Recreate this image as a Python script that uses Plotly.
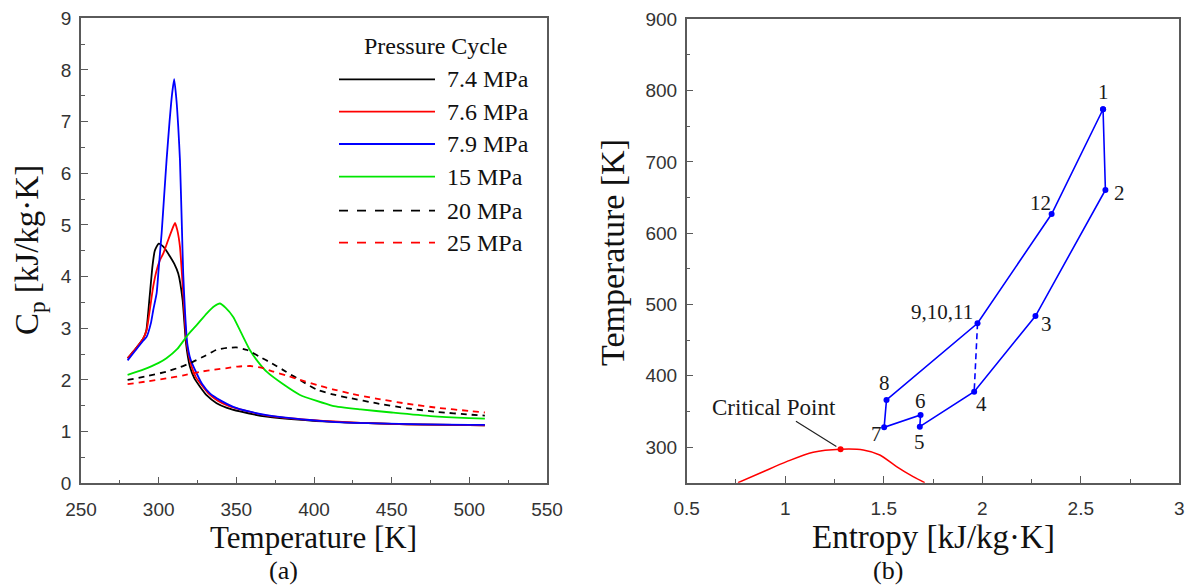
import plotly.graph_objects as go

W, H = 1188, 585

# ---- (a) specific heat vs temperature ----
SERIES_NAMES = ["7.4 MPa", "7.6 MPa", "7.9 MPa", "15 MPa", "20 MPa", "25 MPa"]

T_74 = [280, 285, 290, 292, 294, 296, 297.5, 300, 303, 307.3, 310, 312.6, 315.4, 317.6, 320.1, 323,
        326.6, 331, 337.3, 344, 352.3, 369.5, 399.5, 430, 460, 490, 510]
CP_74 = [2.42, 2.6, 2.8, 2.95, 3.55, 4.2, 4.5, 4.64, 4.58, 4.39, 4.25, 4.06, 3.55, 2.71, 2.26, 2.03,
         1.87, 1.7, 1.55, 1.46, 1.39, 1.29, 1.21, 1.17, 1.14, 1.13, 1.12]

T_76 = [280, 285, 290, 292.3, 294.5, 296.5, 298.5, 300.8, 303, 306, 308.5, 310.5, 312, 313.7, 315.8,
        318, 321.2, 324, 327.7, 332, 338, 345, 355, 370, 400, 430, 460, 490, 510]
CP_76 = [2.42, 2.6, 2.8, 2.97, 3.4, 3.81, 4.1, 4.32, 4.45, 4.7, 4.9, 5.04, 4.9, 4.58, 3.68,
         2.71, 2.26, 2.05, 1.9, 1.74, 1.6, 1.5, 1.41, 1.31, 1.22, 1.17, 1.14, 1.13, 1.12]

T_79 = [280, 285, 290, 292.3, 295, 296.5, 298.7, 300, 301.9, 303.5, 305.1, 307, 308.5, 310, 311.5,
        312.6, 313.7, 315, 315.8, 317, 318.4, 320.5, 324.4, 328, 333, 340, 348, 358, 369.5, 385,
        412, 440, 470, 500, 510]
CP_79 = [2.38, 2.57, 2.76, 2.84, 3.1, 3.35, 3.68, 4.15, 4.84, 5.55, 6.26, 7.0, 7.5, 7.82, 7.4,
         6.9, 6.26, 4.9, 4.06, 3.3, 2.71, 2.4, 2.13, 1.92, 1.74, 1.6, 1.48, 1.39, 1.32, 1.26,
         1.19, 1.16, 1.14, 1.13, 1.13]

T_15 = [280, 290, 300, 305, 312, 319, 325, 331, 336, 339.4, 343, 348, 353, 358.7, 364, 369.5, 380,
        391, 412, 430, 450, 475, 500, 510]
CP_15 = [2.1, 2.2, 2.33, 2.42, 2.6, 2.88, 3.08, 3.29, 3.43, 3.48, 3.4, 3.22, 2.92, 2.58, 2.35, 2.16,
         1.92, 1.71, 1.5, 1.43, 1.37, 1.3, 1.26, 1.25]

T_20 = [280, 292, 305, 314, 322, 330, 337, 344, 350, 357, 365, 373, 382, 392, 402, 412, 423, 440,
        460, 480, 500, 510]
CP_20 = [2.0, 2.07, 2.16, 2.25, 2.35, 2.47, 2.58, 2.62, 2.63, 2.58, 2.45, 2.32, 2.16, 1.98, 1.81,
         1.72, 1.65, 1.55, 1.45, 1.38, 1.33, 1.31]

T_25 = [280, 292, 305, 316, 327, 336, 344, 351, 359, 366, 374, 382, 391, 402, 412, 423, 440, 460,
        480, 500, 510]
CP_25 = [1.92, 1.97, 2.03, 2.09, 2.16, 2.2, 2.23, 2.26, 2.27, 2.24, 2.16, 2.09, 2.0, 1.9, 1.82,
         1.74, 1.64, 1.54, 1.46, 1.40, 1.37]

# ---- (b) T-s diagram ----
S_CYCLE = [2.613, 2.625, 2.270, 1.959, 1.683, 1.687, 1.502, 1.514, 1.976, 2.352, 2.613]
T_CYCLE = [773.8, 660.6, 483.8, 377.6, 328.6, 345.0, 327.7, 366.0, 473.6, 626.9, 773.8]
POINT_LABELS = ["1", "2", "3", "4", "5", "6", "7", "8", "9,10,11", "12"]

S_DASH = [1.976, 1.959]
T_DASH = [473.6, 377.6]

S_DOME = [0.76, 0.888, 1.007, 1.142, 1.281, 1.396, 1.48, 1.565, 1.649, 1.708]
T_DOME = [250, 265.4, 279.5, 292.7, 296.9, 295.9, 288.9, 272.5, 258.4, 250]
S_CRIT, T_CRIT = 1.281, 296.9

STYLES = [
    dict(color="#000000", dash="solid"),
    dict(color="#ff0000", dash="solid"),
    dict(color="#0000ff", dash="solid"),
    dict(color="#00e600", dash="solid"),
    dict(color="#000000", dash="6px,5px"),
    dict(color="#ff0000", dash="6px,5px"),
]

SERIF = "Liberation Serif, Times New Roman, serif"
SANS = "Liberation Sans, Arial, sans-serif"
AXIS_GREY = "#5a5a5a"


def px(x):
    # window pixel -> paper fraction
    return x / W


def py(y):
    return 1 - y / H


fig = go.Figure()

curves = [(T_74, CP_74), (T_76, CP_76), (T_79, CP_79), (T_15, CP_15), (T_20, CP_20), (T_25, CP_25)]
for (t, cp), name, st in zip(curves, SERIES_NAMES, STYLES):
    fig.add_trace(go.Scatter(x=t, y=cp, mode="lines", name=name, showlegend=False,
                             line=dict(color=st["color"], dash=st["dash"], width=1.8, shape="spline",
                                       smoothing=0.5),
                             xaxis="x", yaxis="y"))

fig.add_trace(go.Scatter(x=S_DOME, y=T_DOME, mode="lines", showlegend=False,
                         line=dict(color="#ff0000", width=1.5, shape="spline", smoothing=0.8),
                         xaxis="x2", yaxis="y2", cliponaxis=True))
fig.add_trace(go.Scatter(x=[S_CRIT], y=[T_CRIT], mode="markers", showlegend=False,
                         marker=dict(color="#ff0000", size=6), xaxis="x2", yaxis="y2"))
fig.add_trace(go.Scatter(x=S_CYCLE, y=T_CYCLE, mode="lines+markers", showlegend=False,
                         line=dict(color="#0000ff", width=1.6), marker=dict(color="#0000ff", size=6),
                         xaxis="x2", yaxis="y2"))
fig.add_trace(go.Scatter(x=S_DASH, y=T_DASH, mode="lines", showlegend=False,
                         line=dict(color="#0000ff", width=1.6, dash="6px,4px"),
                         xaxis="x2", yaxis="y2"))

# point labels (screen offsets in px: right, down)
label_offsets = {"1": (0, -17), "2": (14, 3), "3": (11, 8), "4": (7, 12), "5": (0, 15),
                 "6": (0, -14), "7": (-8, 7), "8": (-2, -17), "12": (-11, -11)}
annotations = []
for s, t, lab in zip(S_CYCLE, T_CYCLE, POINT_LABELS):
    if lab == "9,10,11":
        annotations.append(dict(x=s, y=t, xref="x2", yref="y2", text=lab, showarrow=False,
                                xanchor="right", yanchor="middle", xshift=-3, yshift=11,
                                font=dict(family=SERIF, size=21, color="#1a1a1a")))
        continue
    dx, dy = label_offsets[lab]
    annotations.append(dict(x=s, y=t, xref="x2", yref="y2", text=lab, showarrow=False,
                            xanchor="center", yanchor="middle", xshift=dx, yshift=-dy,
                            font=dict(family=SERIF, size=21, color="#1a1a1a")))

annotations.append(dict(x=S_CRIT, y=T_CRIT, xref="x2", yref="y2", text="Critical Point",
                        showarrow=True, arrowhead=0, arrowwidth=1.2, arrowcolor="#222222",
                        ax=-67, ay=-42, standoff=5,
                        font=dict(family=SERIF, size=23, color="#1a1a1a")))


# axis titles and panel captions
def caption(text, x, y, size, angle=0):
    return dict(x=px(x), y=py(y), xref="paper", yref="paper", text=text, showarrow=False,
                xanchor="center", yanchor="middle", textangle=angle,
                font=dict(family=SERIF, size=size, color="#111111"))


annotations += [
    caption("Temperature [K]", 313, 537, 31),
    caption("(a)", 283, 570, 26),
    caption("C<sub>p</sub> [kJ/kg·K]", 29, 250, 33, -90),
    caption("Entropy [kJ/kg·K]", 933, 537, 33),
    caption("(b)", 888, 570, 26),
    caption("Temperature [K]", 612, 253, 34, -90),
]

# legend drawn by hand to match long sample lines
shapes = []
legend_rows = [79.3, 111.7, 144, 176.7, 210.7, 242.7]
annotations.append(dict(x=px(435), y=py(46), xref="paper", yref="paper", text="Pressure Cycle",
                        showarrow=False, xanchor="center", yanchor="middle",
                        font=dict(family=SERIF, size=24, color="#111111")))
for name, st, yy in zip(SERIES_NAMES, STYLES, legend_rows):
    dash = "dash" if st["dash"] != "solid" else "solid"
    shapes.append(dict(type="line", xref="paper", yref="paper", x0=px(339), x1=px(435),
                       y0=py(yy), y1=py(yy), line=dict(color=st["color"], width=1.8, dash=dash)))
    annotations.append(dict(x=px(445), y=py(yy), xref="paper", yref="paper", text=name,
                            showarrow=False, xanchor="left", yanchor="middle",
                            font=dict(family=SERIF, size=24, color="#111111")))

axis_common = dict(showline=True, mirror=True, linecolor=AXIS_GREY, linewidth=1.5,
                   ticks="inside", ticklen=7, tickwidth=1.3, tickcolor=AXIS_GREY,
                   showgrid=False, zeroline=False, automargin=False,
                   tickfont=dict(family=SANS, size=19, color="#333333"))

fig.update_layout(
    width=W, height=H,
    margin=dict(l=0, r=0, t=0, b=0, autoexpand=False),
    plot_bgcolor="white", paper_bgcolor="white",
    showlegend=False,
    xaxis=dict(domain=[px(81), px(547)], range=[250, 550], dtick=50, anchor="y",
               minor=dict(dtick=25, ticks="inside", ticklen=4, tickcolor=AXIS_GREY),
               ticklabelstandoff=8, **axis_common),
    yaxis=dict(domain=[py(483.3), py(18.3)], range=[0, 9], dtick=1, anchor="x",
               minor=dict(dtick=0.5, ticks="inside", ticklen=4, tickcolor=AXIS_GREY),
               ticklabelstandoff=4, **axis_common),
    xaxis2=dict(domain=[px(686.7), px(1179.3)], range=[0.5, 3], dtick=0.5, anchor="y2",
                minor=dict(dtick=0.25, ticks="inside", ticklen=4, tickcolor=AXIS_GREY),
                ticklabelstandoff=8, **axis_common),
    yaxis2=dict(domain=[py(482.7), py(19.3)], range=[250, 900], dtick=100, anchor="x2",
                minor=dict(dtick=50, ticks="inside", ticklen=4, tickcolor=AXIS_GREY),
                ticklabelstandoff=4, **axis_common),
    annotations=annotations,
    shapes=shapes,
)

# drop the browser's default body margin so the figure fills the window exactly
fig.write_html("out.html", config={"displayModeBar": False},
               post_script="document.body.style.margin='0';document.body.style.overflow='hidden';")
